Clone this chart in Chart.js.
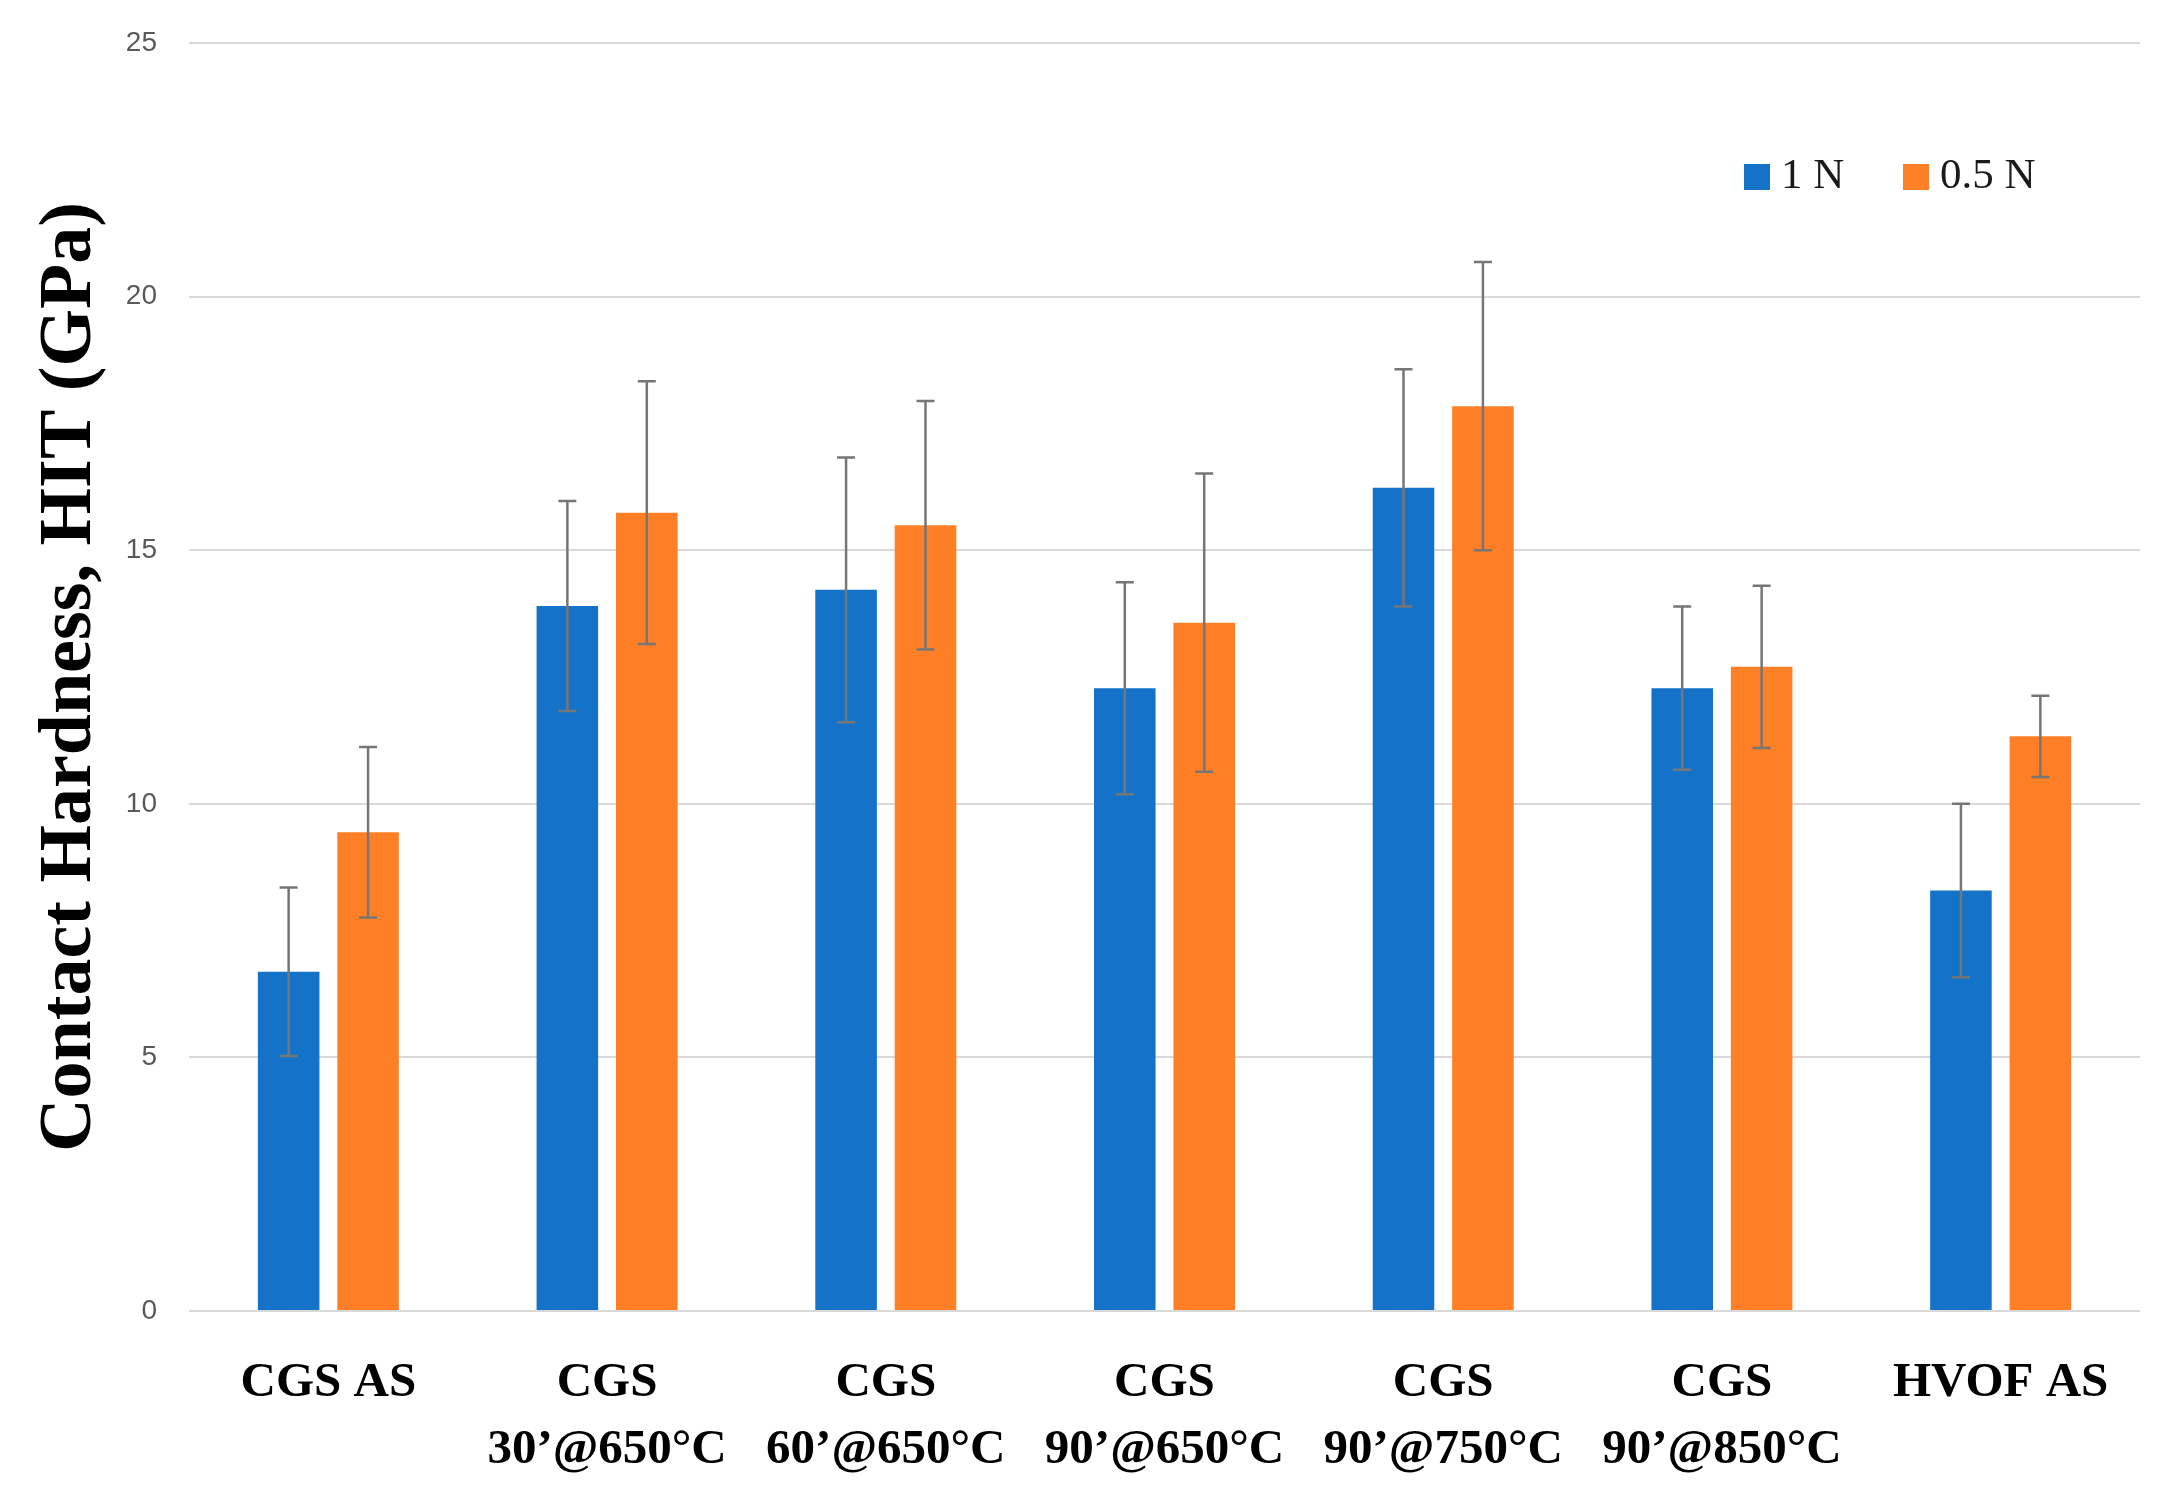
<!DOCTYPE html>
<html><head><meta charset="utf-8">
<script src="https://cdn.jsdelivr.net/npm/chart.js@4.4.1/dist/chart.umd.min.js"></script>
<style>html,body{margin:0;padding:0;background:#fff}canvas{display:block}</style>
</head><body>
<canvas id="c" width="2183" height="1507"></canvas>
<script>
const categories = ["CGS AS", ["CGS", "30’@650°C"], ["CGS", "60’@650°C"], ["CGS", "90’@650°C"], ["CGS", "90’@750°C"], ["CGS", "90’@850°C"], "HVOF AS"];
const seriesNames = ["1 N", "0.5 N"];
const hardness1N = [6.69, 13.90, 14.22, 12.28, 16.23, 12.28, 8.29];
const error1N = [1.66, 2.07, 2.61, 2.09, 2.34, 1.61, 1.71];
const hardness05N = [9.44, 15.74, 15.49, 13.57, 17.84, 12.70, 11.33];
const error05N = [1.68, 2.59, 2.45, 2.94, 2.84, 1.60, 0.80];
const yMin = 0, yMax = 25, yStep = 5;
const yTitle = "Contact Hardness, HIT (GPa)";

const errorBarPlugin = {
  id: 'errorBars',
  afterDatasetsDraw(chart, args, opts) {
    const ctx = chart.ctx, y = chart.scales.y;
    chart.data.datasets.forEach((ds, i) => {
      const meta = chart.getDatasetMeta(i);
      meta.data.forEach((bar, j) => {
        const v = ds.data[j], e = ds.errors[j];
        const top = y.getPixelForValue(v + e), bot = y.getPixelForValue(v - e);
        ctx.save();
        ctx.strokeStyle = opts.color; ctx.lineWidth = opts.width;
        ctx.beginPath();
        ctx.moveTo(bar.x, top); ctx.lineTo(bar.x, bot);
        ctx.moveTo(bar.x - opts.cap, top); ctx.lineTo(bar.x + opts.cap, top);
        ctx.moveTo(bar.x - opts.cap, bot); ctx.lineTo(bar.x + opts.cap, bot);
        ctx.stroke();
        ctx.restore();
      });
    });
  }
};

const insideLegendPlugin = {
  id: 'insideLegend',
  afterDraw(chart, args, opts) {
    const ctx = chart.ctx;
    ctx.save();
    ctx.font = opts.font;
    ctx.textBaseline = 'middle';
    chart.data.datasets.forEach((ds, i) => {
      const x = opts.xs[i];
      ctx.fillStyle = ds.backgroundColor;
      ctx.fillRect(x, opts.y - opts.box / 2, opts.box, opts.box);
      ctx.fillStyle = opts.color;
      ctx.fillText(ds.label, x + opts.box + opts.gap, opts.y);
    });
    ctx.restore();
  }
};

new Chart(document.getElementById('c'), {
  type: 'bar',
  data: {
    labels: categories,
    datasets: [
      { label: seriesNames[0], data: hardness1N, errors: error1N, backgroundColor: '#1473C8' },
      { label: seriesNames[1], data: hardness05N, errors: error05N, backgroundColor: '#FE7F26' }
    ]
  },
  options: {
    responsive: false,
    animation: false,
    devicePixelRatio: 1,
    categoryPercentage: 0.57,
    barPercentage: 0.775,
    layout: { padding: { top: 43, right: 43, left: 0, bottom: 0 } },
    plugins: {
      legend: { display: false },
      tooltip: { enabled: false },
      errorBars: { color: '#767676', width: 2.5, cap: 9 },
      insideLegend: { xs: [1744, 1903], y: 177, box: 26, gap: 11, font: '43px "Liberation Serif"', color: '#1a1a1a' }
    },
    scales: {
      x: {
        grid: { display: false },
        border: { display: false },
        ticks: { color: '#000', padding: 31, font: { family: 'Liberation Serif', weight: 'bold', size: 49, lineHeight: 1.37 }, maxRotation: 0, autoSkip: false },
        afterFit(scale) { scale.height = 196; }
      },
      y: {
        min: yMin, max: yMax,
        ticks: { stepSize: yStep, color: '#595959', padding: 0, font: { family: 'Liberation Sans', size: 28 } },
        grid: { color: '#D9D9D9', lineWidth: 2, drawTicks: true, tickLength: 32, tickColor: 'rgba(0,0,0,0)' },
        border: { display: false },
        title: { display: true, text: yTitle, color: '#000', font: { family: 'Liberation Serif', weight: 'bold', size: 74, lineHeight: 1.2 }, padding: { top: 26, bottom: 0 } },
        afterFit(scale) { scale.width = 189; }
      }
    }
  },
  plugins: [errorBarPlugin, insideLegendPlugin]
});
</script>
</body></html>
